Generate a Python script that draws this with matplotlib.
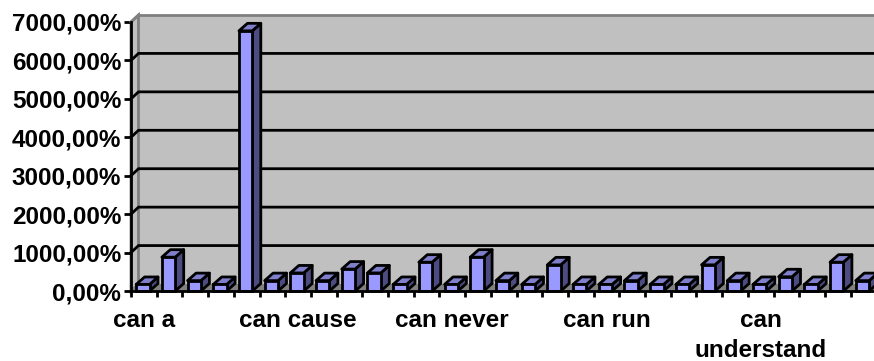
import matplotlib
matplotlib.use("Agg")
import matplotlib.pyplot as plt
from matplotlib.patches import Polygon

# Data (percent)
values = [170, 880, 270, 170, 6770, 270, 470, 270, 570, 470,
          170, 750, 170, 880, 270, 170, 680, 170, 170, 270,
          170, 170, 680, 270, 170, 370, 170, 750, 270]
label_pos = [0, 6, 12, 18, 24]
label_txt = ["can a", "can cause", "can never", "can run", "can\nunderstand"]
y_ticks = [0, 1000, 2000, 3000, 4000, 5000, 6000, 7000]
y_labels = ["0,00%", "1000,00%", "2000,00%", "3000,00%", "4000,00%",
            "5000,00%", "6000,00%", "7000,00%"]

W, H = 874, 361
fig = plt.figure(figsize=(W / 100, H / 100), dpi=100)
plt.rcParams['font.family'] = ['Liberation Sans', 'DejaVu Sans']

# Axes covers the front plane of the fake 3D box
left, right, top, bottom = 131, 874, 22, 291
ax = fig.add_axes([left / W, 1 - bottom / H, (right - left) / W, (bottom - top) / H])
cat_w = 25.7
px_y = (bottom - top) / 7000
ax.set_xlim(0, (right - left) / cat_w)
ax.set_ylim(0, 7000)
ax.patch.set_alpha(0)
for s in ax.spines.values():
    s.set_visible(False)

# Depth of the box in data units
dx = 7.5 / cat_w
dy = 7 / px_y
xmax = ax.get_xlim()[1] + 1
LW = 2.0

# Walls and floor
ax.add_patch(Polygon([(dx, dy), (xmax, dy), (xmax, 7000 + dy), (dx, 7000 + dy)],
                     fc="#C0C0C0", ec="none", clip_on=False, zorder=1))
ax.add_patch(Polygon([(0, 0), (dx, dy), (dx, 7000 + dy), (0, 7000)],
                     fc="#C0C0C0", ec="#808080", lw=LW, clip_on=False, zorder=1))
ax.add_patch(Polygon([(0, 0), (xmax, 0), (xmax, dy), (dx, dy)],
                     fc="#808080", ec="none", clip_on=False, zorder=1))
ax.plot([dx, xmax], [7000 + dy, 7000 + dy], color="#808080", lw=LW, clip_on=False, zorder=2)

# Gridlines on the back wall, with the slanted bit on the side wall
for t in y_ticks[1:-1]:
    ax.plot([0, dx, xmax], [t, t + dy, t + dy], color="black", lw=LW,
            clip_on=False, zorder=2, solid_joinstyle="miter")
ax.plot([0, dx], [7000, 7000 + dy], color="#808080", lw=LW, clip_on=False, zorder=2)

# Bars: front face, side and top
bw = 0.52
shift = 0.46
bar_dx = 8.5 / cat_w
bar_dy = 7.5 / px_y
for i, v in enumerate(values):
    x0 = i + shift - bw / 2
    x1 = x0 + bw
    z = 5 + i
    ax.add_patch(Polygon([(x1, 0), (x1 + bar_dx, bar_dy), (x1 + bar_dx, v + bar_dy), (x1, v)],
                         fc="#4C4C80", ec="black", lw=LW, clip_on=False, zorder=z,
                         joinstyle="round"))
    ax.add_patch(Polygon([(x0, v), (x1, v), (x1 + bar_dx, v + bar_dy), (x0 + bar_dx, v + bar_dy)],
                         fc="#7F7FCC", ec="black", lw=LW, clip_on=False, zorder=z,
                         joinstyle="round"))
    ax.bar(i + shift, v, width=bw, color="#9999FF", edgecolor="black", linewidth=LW,
           zorder=z, clip_on=False)

# Axis lines on top of the floor
ax.plot([0, 0], [0, 7000], color="black", lw=LW, clip_on=False, zorder=3)
ax.plot([0, xmax], [0, 0], color="black", lw=LW, clip_on=False, zorder=40)

# Ticks and labels
ax.set_yticks(y_ticks)
ax.set_yticklabels(y_labels, fontsize=17.5, fontweight="bold")
ax.tick_params(axis="y", length=5, width=LW, pad=2)

ax.set_xticks(range(0, 29), minor=True)
ax.tick_params(axis="x", which="minor", length=4.5, width=LW)
ax.set_xticks([p + 0.5 for p in label_pos])
ax.set_xticklabels(label_txt, fontsize=17.5, fontweight="bold", linespacing=1.36)
ax.tick_params(axis="x", which="major", length=0, pad=13)

fig.savefig("out.png", dpi=100, facecolor="white")
